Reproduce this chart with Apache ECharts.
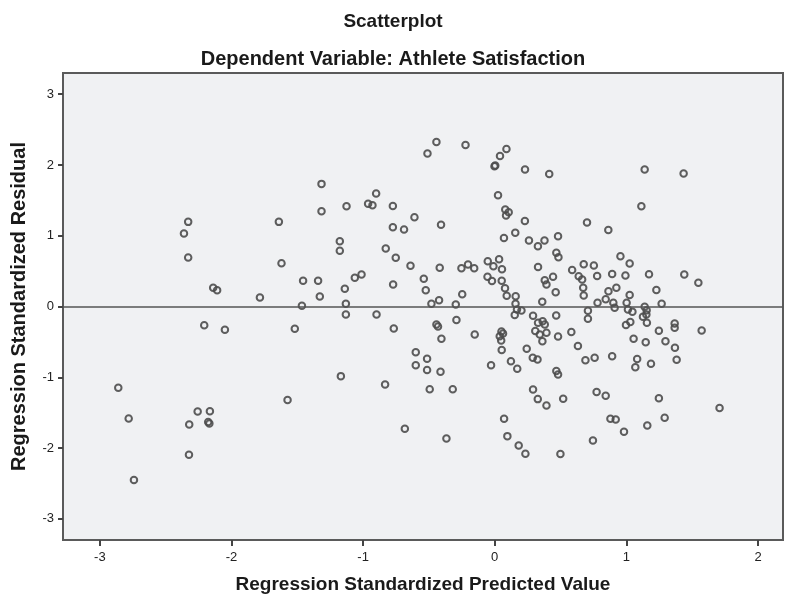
<!DOCTYPE html>
<html>
<head>
<meta charset="utf-8">
<script src="https://cdn.jsdelivr.net/npm/echarts@6/dist/echarts.min.js"></script>
<style>
html,body{margin:0;padding:0;background:#fff;}
#chart{width:786px;height:600px;}
</style>
</head>
<body>
<div id="chart"></div>
<script>
// Regression standardized predicted value (x) and residual (y)
var predicted = [
-2.329,-2.361,-2.329,-2.139,-2.109,-1.784,-1.640,-1.620,-1.456,-1.465,
-2.207,-2.050,-1.519,-2.860,-2.781,-1.574,-2.257,-2.164,-2.321,-2.177,
-2.168,-2.323,-2.741,-1.316,-1.316,-1.126,-0.962,-0.929,-0.901,-0.774,
-1.177,-1.177,-0.828,-0.774,-0.689,-0.610,-0.752,-0.640,-0.408,-0.511,
-0.443,-0.222,-0.002,0.004,0.040,0.089,0.230,0.414,0.025,0.080,
0.106,0.086,0.229,0.156,0.070,0.260,0.328,0.378,0.481,0.468,
0.484,-1.342,-1.329,-1.139,-1.063,-1.012,-1.131,-0.772,-0.539,-0.524,
-0.481,-0.423,-0.418,-0.296,-0.247,-0.253,-0.203,-0.156,-0.053,0.033,
-0.010,0.055,-0.055,-0.021,0.053,0.078,0.091,0.159,0.158,0.329,
0.380,0.393,0.443,0.463,0.361,1.139,1.435,1.114,0.701,0.863,
0.955,1.025,0.676,0.753,0.588,0.638,0.664,0.778,0.892,0.993,
1.172,1.440,1.547,0.672,0.676,0.864,0.924,1.025,1.228,0.781,
0.843,0.901,1.002,1.268,0.911,1.012,1.139,1.154,1.152,0.708,
0.708,1.046,1.030,0.997,1.126,1.156,1.367,1.367,1.247,1.572,
0.582,0.481,1.055,1.147,1.297,1.369,0.632,0.689,0.759,0.892,
1.082,1.068,1.187,1.382,0.468,0.481,0.774,0.843,0.520,1.247,
1.708,0.879,0.919,0.982,1.159,1.291,0.746,0.499,-1.131,-0.898,
-0.767,-0.291,-0.443,-0.431,-0.405,-0.152,0.051,0.063,0.038,0.049,
0.053,0.169,0.152,0.203,0.291,0.364,0.380,0.329,0.308,0.393,
0.362,0.342,0.243,0.289,0.325,0.123,0.171,-0.028,-0.600,-0.600,
-0.514,-0.514,-0.412,-0.494,-0.319,-1.169,-0.833,-0.683,-0.367,0.291,
0.327,0.393,0.071,0.096,0.182,0.233,0.467
];
var residual = [
1.196,1.031,0.692,0.264,0.230,0.127,1.196,0.612,0.363,0.010,
-0.264,-0.329,-0.315,-1.148,-1.582,-1.323,-1.483,-1.479,-1.667,-1.634,
-1.653,-2.095,-2.453,1.733,1.346,1.417,1.451,1.431,1.596,1.422,
0.922,0.787,0.819,1.120,1.088,1.261,0.688,0.575,1.154,2.161,
2.326,2.284,1.982,1.992,2.128,2.227,1.935,1.874,1.572,1.370,
1.331,1.285,1.208,1.041,0.967,0.932,0.852,0.932,0.993,0.758,
0.695,0.363,0.141,0.250,0.405,0.452,0.038,0.311,0.391,0.229,
0.038,0.088,0.547,0.028,0.174,0.541,0.593,0.541,0.640,0.668,
0.569,0.527,0.419,0.360,0.363,0.258,0.151,0.145,0.038,0.558,
0.371,0.311,0.419,0.202,0.066,1.935,1.879,1.417,1.186,1.081,
0.709,0.607,0.597,0.579,0.516,0.428,0.381,0.431,0.459,0.438,
0.456,0.452,0.335,0.264,0.155,0.215,0.264,0.162,0.233,0.052,
0.103,0.052,0.052,0.038,-0.018,-0.042,-0.004,-0.052,-0.113,-0.059,
-0.174,-0.075,-0.219,-0.261,-0.145,-0.230,-0.240,-0.301,-0.343,-0.339,
-0.360,-0.424,-0.456,-0.504,-0.490,-0.583,-0.558,-0.758,-0.725,-0.702,
-0.742,-0.857,-0.809,-0.751,-0.911,-0.960,-1.210,-1.261,-1.304,-1.295,
-1.436,-1.586,-1.596,-1.770,-1.681,-1.572,-1.893,-2.086,-0.113,-0.113,
-0.311,-0.191,-0.254,-0.282,-0.455,-0.395,-0.353,-0.381,-0.419,-0.480,
-0.614,-0.042,-0.120,-0.056,-0.131,-0.208,-0.254,-0.230,-0.346,-0.371,
-0.490,-0.395,-0.596,-0.725,-0.749,-0.773,-0.879,-0.829,-0.645,-0.829,
-0.737,-0.897,-0.921,-1.168,-1.168,-0.984,-1.102,-1.727,-1.864,-1.172,
-1.309,-1.398,-1.586,-1.832,-1.963,-2.081,-0.127
];
var xTicks = [-3, -2, -1, 0, 1, 2];
var yTicks = [-3, -2, -1, 0, 1, 2, 3];

var points = predicted.map(function (v, i) { return [v, residual[i]]; });

var FONT = "'Liberation Sans', Arial, sans-serif";
var chart = echarts.init(document.getElementById('chart'), null, {renderer: 'canvas'});
chart.setOption({
  animation: false,
  backgroundColor: '#ffffff',
  title: [
    {text: 'Scatterplot', left: 'center', top: 7,
     textStyle: {fontFamily: FONT, fontSize: 19, fontWeight: 'bold', color: '#1a1a1a'}},
    {text: 'Dependent Variable: Athlete Satisfaction', left: 'center', top: 44,
     textStyle: {fontFamily: FONT, fontSize: 20, fontWeight: 'bold', color: '#1a1a1a'}}
  ],
  grid: {
    left: 63, right: 3, top: 73, bottom: 60,
    outerBoundsMode: 'none', containLabel: false,
    show: true, backgroundColor: '#f0f1f3', borderColor: '#5a5a5a', borderWidth: 2
  },
  xAxis: {
    type: 'value', min: -3.28, max: 2.19,
    name: 'Regression Standardized Predicted Value',
    nameLocation: 'middle', nameGap: 35,
    nameTextStyle: {fontFamily: FONT, fontSize: 19, fontWeight: 'bold', color: '#1a1a1a'},
    splitLine: {show: false},
    axisLine: {show: false, onZero: false},
    axisTick: {show: true, length: 6, customValues: xTicks, lineStyle: {color: '#444', width: 2}},
    axisLabel: {customValues: xTicks, margin: 11, fontFamily: FONT, fontSize: 13, color: '#222'}
  },
  yAxis: {
    type: 'value', min: -3.3, max: 3.3,
    name: 'Regression Standardized Residual',
    nameLocation: 'middle', nameGap: 34,
    nameTextStyle: {fontFamily: FONT, fontSize: 20, fontWeight: 'bold', color: '#1a1a1a'},
    splitLine: {show: false},
    axisLine: {show: false, onZero: false},
    axisTick: {show: true, length: 5, customValues: yTicks, lineStyle: {color: '#444', width: 2}},
    axisLabel: {customValues: yTicks, margin: 9, fontFamily: FONT, fontSize: 13, color: '#222'}
  },
  series: [{
    type: 'scatter',
    data: points,
    symbol: 'circle',
    symbolSize: 6.5,
    itemStyle: {color: 'rgba(0,0,0,0)', borderColor: '#4d4d4d', borderWidth: 2, opacity: 0.9},
    markLine: {
      silent: true, symbol: 'none', label: {show: false},
      lineStyle: {color: '#555', width: 1.5, type: 'solid'},
      data: [{yAxis: 0}]
    },
    z: 3
  }]
});
</script>
</body>
</html>
